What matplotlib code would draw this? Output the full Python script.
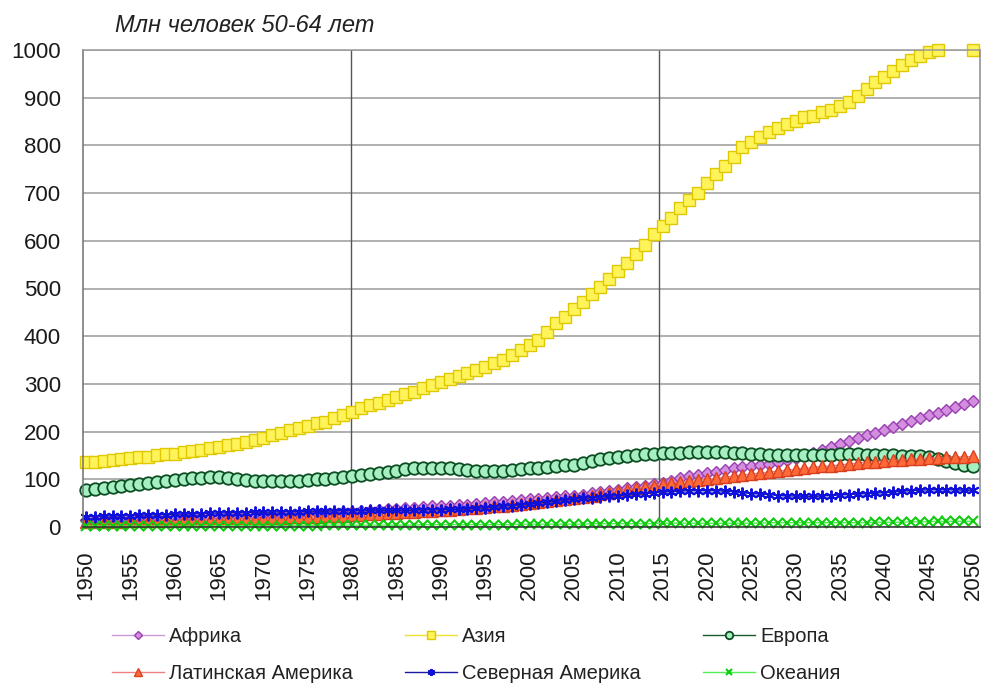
import numpy as np
import matplotlib
matplotlib.use("Agg")
import matplotlib.pyplot as plt
from matplotlib import font_manager

# Млн человек в возрасте 50-64 лет, 1950-2050
years = list(range(1950, 2051))

africa = [
    15, 15, 16, 16, 17, 17, 18, 18, 19, 19,
    20, 20, 21, 21, 22, 22, 23, 23, 24, 24,
    25, 25, 26, 26, 27, 28, 29, 29, 30, 31,
    32, 33, 34, 35, 37, 38, 39, 40, 41, 43,
    44, 45, 46, 47, 49, 50, 52, 53, 55, 56,
    58, 59, 61, 62, 64, 66, 68, 71, 73, 76,
    78, 81, 84, 87, 90, 93, 97,
    102, 106, 109, 113, 116, 120, 123, 125, 128, 130, 133,
    136, 140, 145, 150, 156, 162, 168, 174, 180, 186, 192, 198,
    204, 210, 216, 222, 228, 234, 240, 246, 252, 258, 264,
]

asia = [
    137, 137, 138, 140, 142, 144, 146, 147, 151, 153,
    154, 158, 160, 161, 165, 168, 172, 175, 179, 182,
    187, 193, 198, 203, 207, 212, 217, 221, 228, 235,
    242, 249, 256, 261, 266,
    272, 278, 284, 291, 298, 305, 311, 317, 323, 330, 336, 343, 350,
    360, 371, 381, 393, 409, 427, 441, 458, 472, 488, 503, 519, 536, 554, 572,
    592, 614, 631, 648, 668, 685, 701, 722, 740, 757, 776, 796, 808, 818,
    829, 836, 845, 851, 859, 862, 869, 874, 883, 892, 904, 918, 932, 944,
    957, 969, 979, 987, 996, 999,
    1003, 1005, 1004, 999,
]

europe = [
    77, 79, 81, 83, 86, 88, 90, 92, 94, 96,
    98, 100, 102, 103, 104, 104, 103, 101, 98, 97,
    97, 97, 97, 97, 97, 98, 100, 101, 103, 105,
    107, 109, 111, 113, 115, 118, 122, 123, 124, 124,
    124, 123, 121, 120, 118, 118, 118, 118, 120, 122,
    123, 124, 126, 128, 130, 131, 135, 138, 142, 145,
    147, 149, 151, 153, 154, 155, 156, 156, 157, 157,
    157, 157, 157, 156, 155, 153, 152, 151, 150, 150,
    150, 150, 150, 150, 151, 152, 152, 152, 151, 151,
    150, 150, 149, 149, 148, 146, 142, 138, 134, 130,
    127,
]

latin_america = [
    10, 10, 11, 11, 11, 12, 12, 12, 13, 13,
    13, 14, 14, 15, 15, 16, 16, 17, 17, 17,
    18, 18, 19, 20, 20, 21, 22, 23, 23, 24,
    25, 26, 27, 28, 29, 30, 31, 32, 33, 34,
    35, 36, 37, 39, 40, 41, 43, 44, 46, 48,
    50, 52, 54, 56, 58, 61, 63, 66, 69, 72,
    75, 78, 81, 84, 87, 90, 92, 94, 96, 98,
    100, 102, 104, 107, 109, 111, 113, 115, 117, 119,
    121, 123, 125, 127, 128, 130, 132, 134, 136, 137,
    139, 140, 141, 142, 143, 144, 145, 146, 147, 147,
    148,
]

north_america = [
    22, 22, 23, 23, 24, 24, 25, 25, 26, 26,
    27, 27, 28, 28, 29, 29, 30, 30, 30, 31,
    31, 31, 32, 32, 32, 33, 33, 33, 34, 34,
    34, 34, 35, 35, 35, 35, 35, 35, 36, 36,
    36, 37, 37, 38, 39, 40, 41, 43, 45, 46,
    48, 50, 52, 54, 56, 58, 60, 61, 63, 64,
    66, 67, 69, 70, 72, 73, 74, 75, 76, 76,
    76, 76, 75, 74, 72, 70, 69, 68, 66, 65,
    65, 64, 64, 65, 66, 67, 68, 69, 70, 71,
    72, 73, 75, 76, 77, 78, 78, 78, 78, 77,
    77,
]

oceania = [
    2, 2, 2, 2, 2, 2, 2, 2, 2, 2,
    2, 2, 2, 3, 3, 3, 3, 3, 3, 3,
    3, 3, 3, 3, 3, 3, 3, 4, 4, 4,
    4, 4, 4, 4, 4, 4, 4, 4, 5, 5,
    5, 5, 5, 5, 5, 5, 5, 5, 5, 6,
    6, 6, 6, 6, 6, 6, 6, 7, 7, 7,
    7, 7, 7, 7, 7, 8, 8, 8, 8, 8,
    8, 8, 8, 8, 8, 8, 8, 9, 9, 9,
    9, 9, 9, 9, 9, 9, 9, 9, 9, 10,
    10, 10, 10, 11, 11, 11, 12, 12, 12, 12,
    12,
]

y_ticks = list(range(0, 1001, 100))
x_ticks = list(range(1950, 2051, 5))

names = {f.name for f in font_manager.fontManager.ttflist}
base_font = "Liberation Sans" if "Liberation Sans" in names else "DejaVu Sans"
plt.rcParams["font.family"] = base_font

fig = plt.figure(figsize=(9.87, 6.84), dpi=100)
ax = fig.add_axes([83 / 987, 1 - 527 / 684, (980 - 83) / 987, (527 - 50) / 684])

# Excel hides points above the axis maximum
asia_shown = np.array(asia, dtype=float)
asia_shown[asia_shown > 1000] = np.nan

series = [
    ("Африка", africa, dict(color="#cc99dd", marker="D", ms=6.5, mfc="#d48ee0", mec="#9a3fb0", mew=1.0)),
    ("Азия", asia_shown, dict(color="#f2e030", marker="s", ms=9, mfc="#fff35a", mec="#e0c800", mew=1.0)),
    ("Европа", europe, dict(color="#1c5a2c", marker="o", ms=9, mfc="#a6efc2", mec="#0d4d22", mew=1.3)),
    ("Латинская Америка", latin_america, dict(color="#ee8080", marker="^", ms=8.5, mfc="#ff6a38", mec="#d84020", mew=1.0)),
    ("Северная Америка", north_america, dict(color="#1a1aa0", marker=(6, 2, 0), ms=8.5, mfc="#1010dd", mec="#1010dd", mew=1.4)),
    ("Океания", oceania, dict(color="#55ee55", marker="x", ms=7, mfc="#11cc11", mec="#11cc11", mew=1.5)),
]

handles = {}
for label, values, style in series:
    line, = ax.plot(years, values, lw=1.0, clip_on=False, label=label, **style)
    handles[label] = line

ax.set_xlim(1949.66, 2050.79)
ax.set_ylim(0, 1000)
ax.set_yticks(y_ticks)
ax.set_xticks(x_ticks)
ax.set_xticklabels([str(x) for x in x_ticks], rotation=90)
ax.tick_params(axis="y", length=0, pad=16, labelsize=16, labelcolor="#1a1a1a")
ax.tick_params(axis="x", length=0, pad=17, labelsize=16, labelcolor="#1a1a1a")

ax.grid(axis="y", color="#9a9a9a", lw=1.1)
ax.set_axisbelow(True)
for xv in (1979.9, 2014.6):
    ax.axvline(xv, color="#555555", lw=1.0, zorder=1)

ax.spines["left"].set_color("#707070")
ax.spines["bottom"].set_color("#303030")
ax.spines["right"].set_color("#8a8a8a")
ax.spines["top"].set_color("#9a9a9a")
for s in ax.spines.values():
    s.set_linewidth(1.1)

fig.text(115 / 987, 1 - 25 / 684, "Млн человек 50-64 лет", fontsize=17,
         style="italic", color="#222222", va="center", ha="left")

# legend: three columns placed where the original has them
legend_fs = 14.5
em_px = legend_fs * 100 / 72
columns = [
    (112, ["Африка", "Латинская Америка"]),
    (405, ["Азия", "Северная Америка"]),
    (703, ["Европа", "Океания"]),
]
for x_px, labels in columns:
    leg = fig.legend([handles[k] for k in labels], labels, loc="center left",
                     bbox_to_anchor=(x_px / 987, 1 - 655 / 684), frameon=False,
                     fontsize=legend_fs, markerscale=0.6, borderpad=0, borderaxespad=0,
                     handlelength=52 / em_px, handletextpad=5 / em_px,
                     labelspacing=0.85)
    for t in leg.get_texts():
        t.set_color("#222222")

fig.savefig("out.png", dpi=100, facecolor="white")
